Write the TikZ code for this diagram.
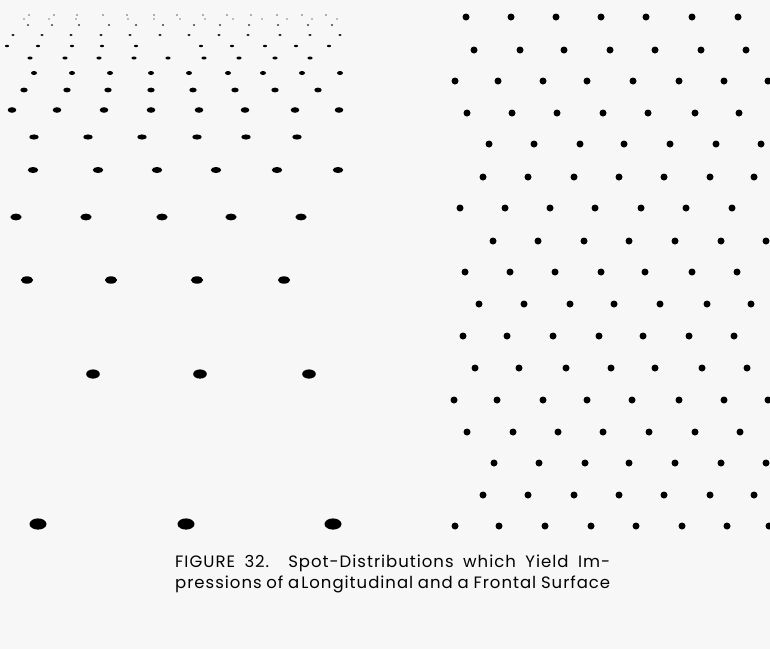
\documentclass[tikz,border=0pt]{standalone}
\usepackage{fontspec}
\newfontfamily\capfont[LetterSpace=6]{Poppins}
\definecolor{paper}{RGB}{247,247,247}
\begin{document}
\begin{tikzpicture}[x=1pt,y=-1pt]
\fill[paper] (0,0) rectangle (770,649);
\useasboundingbox (0,0) rectangle (770,649);
% left panel: receding rows (y / rx / ry / x positions)
\foreach \yy/\rx/\ry/\xs in {
 15/0.8/0.6/{29,54,77,103,127,154,177,203,227,251,277,302,326},
 19/0.7/0.6/{24,49,76,128,154,180,205,233,262,287,312,337},
 25/1.1/0.8/{28,52,79,109,136,163,194,220,249,278,308,332},
 35/1.7/1.0/{13,42,71,101,130,160,189,219,248,280,310,340},
 46/2.1/1.2/{7,38,72,102,136,201,232,265,296,329},
 58/2.6/1.5/{30,65,99,134,168,204,239,275,310},
 73/3.0/2.0/{34,72,110,151,189,228,263,302,340},
 90/3.7/2.4/{24,67,108,151,193,235,275,318},
 110/4.3/2.8/{12,57,104,151,199,245,295,339},
 137/4.7/2.6/{34,88,142,197,246,297},
 170/5.2/3.0/{33,98,157,216,277,338},
 217/5.6/3.4/{16,86,162,231,301},
 280/6.1/3.7/{27,111,197,284},
 374/6.8/4.6/{93,200,309},
 524/8.5/5.6/{38,186,333}}
 {\foreach \xx in \xs {\fill[black] (\xx,\yy) ellipse [x radius=\rx, y radius=\ry];}}
% right panel: frontal lattice
\foreach \yy/\xs in {
 17/{466,511,556,601,646,692,738},
 50/{474,520,564,610,655,701,746},
 81/{455,498,543,587,633,679,724,768},
 113/{467,512,557,603,648,695,739},
 144/{489,534,580,624,670,716,761},
 177/{483,528,574,619,664,710,754},
 208/{460,505,550,595,641,686,732},
 241/{493,538,584,629,675,721,766},
 272/{465,510,555,601,645,692,737},
 304/{479,524,570,614,660,707,751},
 336/{463,507,553,599,643,689,734},
 368/{475,519,566,611,655,702,747},
 400/{454,497,543,587,632,679,724,768},
 432/{467,513,558,603,649,695,740},
 463/{494,539,585,629,675,721,766},
 495/{483,528,574,619,664,710,754},
 526/{455,499,545,591,636,682,727,769}}
 {\foreach \xx in \xs {\fill[black] (\xx,\yy) circle [radius=3.5];}}
% caption
\tikzset{captext/.style={anchor=base west,inner sep=0pt,font=\capfont\fontsize{16.5}{18}\selectfont}}
\node[captext] (cap1) at (175,567)
 {\makebox[435pt][s]{FIGURE 32.\ \ Spot-Distributions which Yield Im-}};
\node[captext] (cap2) at (175,588)
 {\makebox[435pt][s]{pressions of a\hspace{2pt}Longitudinal and a Frontal Surface}};
\end{tikzpicture}
\end{document}
